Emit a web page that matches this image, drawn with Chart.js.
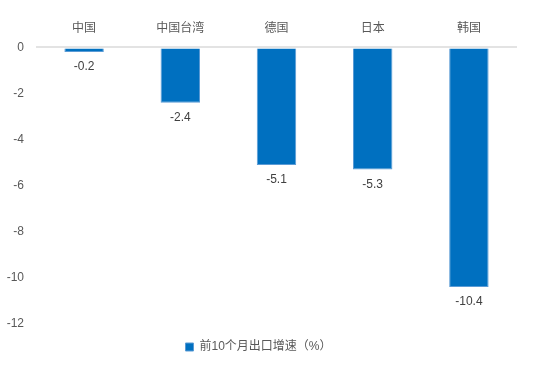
<!DOCTYPE html>
<html>
<head>
<meta charset="utf-8">
<script src="https://cdn.jsdelivr.net/npm/chart.js@4/dist/chart.umd.min.js"></script>
<style>
  html, body { margin: 0; padding: 0; background: #fff; }
  #wrap { width: 536px; height: 366px; position: relative; }
</style>
</head>
<body>
<div id="wrap"><canvas id="c"></canvas></div>
<script>
// data
const categories = ['中国', '中国台湾', '德国', '日本', '韩国'];
const exportGrowth = [-0.2, -2.4, -5.1, -5.3, -10.4];
const seriesName = '前10个月出口增速（%）';
const yTicks = [0, -2, -4, -6, -8, -10, -12];

const FONT = '"Liberation Sans", "Noto Sans CJK SC", sans-serif';
const TEXT = '#595959';

// value labels under each bar end
const valueLabels = {
  id: 'valueLabels',
  afterDatasetsDraw(chart) {
    const ctx = chart.ctx;
    const meta = chart.getDatasetMeta(0);
    ctx.save();
    ctx.font = '12px ' + FONT;
    ctx.fillStyle = '#404040';
    ctx.textAlign = 'center';
    ctx.textBaseline = 'middle';
    meta.data.forEach((bar, i) => {
      ctx.fillText(String(exportGrowth[i]), bar.x, bar.y + 15);
    });
    ctx.restore();
  }
};

new Chart(document.getElementById('c').getContext('2d'), {
  type: 'bar',
  data: {
    labels: categories,
    datasets: [{
      label: seriesName,
      data: exportGrowth,
      backgroundColor: '#0070C0',
      borderColor: '#5B9BD5',
      borderWidth: 1,
      categoryPercentage: 1,
      barPercentage: 0.41
    }]
  },
  options: {
    responsive: true,
    maintainAspectRatio: false,
    animation: false,
    layout: { padding: { top: 17, right: 19, left: 0, bottom: 3 } },
    plugins: {
      legend: {
        position: 'bottom',
        labels: {
          color: TEXT,
          font: { family: FONT, size: 12 },
          boxWidth: 8, boxHeight: 8, padding: 17
        }
      },
      tooltip: { enabled: false }
    },
    scales: {
      x: {
        position: 'top',
        grid: { display: false },
        border: { display: false },
        ticks: { color: TEXT, font: { family: FONT, size: 12 }, padding: 4 }
      },
      y: {
        min: -12, max: 0,
        afterBuildTicks: axis => { axis.ticks = yTicks.map(v => ({ value: v })); },
        afterFit: axis => { axis.width = 36; },
        border: { display: false },
        grid: {
          drawTicks: false,
          tickLength: 0,
          color: c => c.tick && c.tick.value === 0 ? '#e3e3e3' : 'rgba(0,0,0,0)',
          lineWidth: 2
        },
        ticks: { color: TEXT, font: { family: FONT, size: 12 }, padding: 12 }
      }
    }
  },
  plugins: [valueLabels]
});
</script>
</body>
</html>
